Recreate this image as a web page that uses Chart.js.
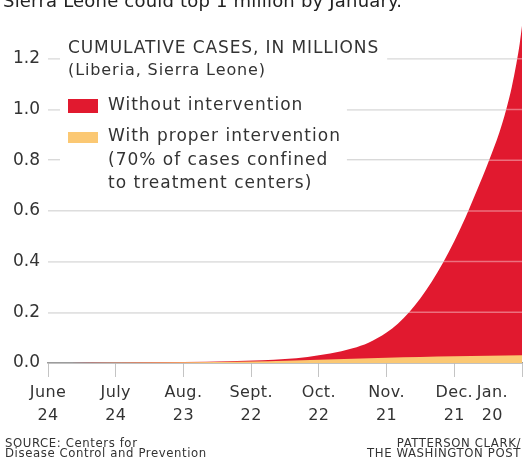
<!DOCTYPE html>
<html>
<head>
<meta charset="utf-8">
<script src="https://cdn.jsdelivr.net/npm/chart.js@4"></script>
<style>
  html, body { margin: 0; padding: 0; background: #fff; }
  #c { display: block; }
</style>
</head>
<body>
<canvas id="c" width="526" height="459"></canvas>
<script>
// Days are counted from June 24.
const tickDays = [0, 30, 60, 90, 120, 150, 180, 210];
const tickLabels = [
  ['June', '24'], ['July', '24'], ['Aug.', '23'], ['Sept.', '22'],
  ['Oct.', '22'], ['Nov.', '21'], ['Dec.', '21'], ['Jan.', '20']
];
const yTicks = [0, 0.2, 0.4, 0.6, 0.8, 1.0, 1.2];

// Cumulative cases, in millions (Liberia, Sierra Leone)
const noInterventionDays = [0, 20, 40, 60, 80, 95, 105, 115, 125, 135, 142, 150, 155, 160, 165, 170, 175, 180, 185, 190, 195, 200, 203, 205.5, 207.5, 209, 210];
const noInterventionCases = [0.000, 0.001, 0.002, 0.004, 0.007, 0.011, 0.016, 0.024, 0.037, 0.058, 0.080, 0.120, 0.155, 0.200, 0.255, 0.320, 0.395, 0.480, 0.575, 0.680, 0.790, 0.910, 1.000, 1.090, 1.180, 1.260, 1.330];

const interventionDays = [0, 30, 60, 90, 105, 120, 135, 150, 165, 180, 195, 210];
const interventionCases = [0.000, 0.001, 0.003, 0.006, 0.009, 0.013, 0.017, 0.021, 0.024, 0.027, 0.029, 0.031];

const titleText = 'Sierra Leone could top 1 million by January.';
const legendHeader = ['CUMULATIVE CASES, IN MILLIONS', '(Liberia, Sierra Leone)'];
const legendWithout = ['Without intervention'];
const legendWith = ['With proper intervention', '(70% of cases confined', 'to treatment centers)'];
const sourceLines = ['SOURCE: Centers for', 'Disease Control and Prevention'];
const creditLines = ['PATTERSON CLARK/', 'THE WASHINGTON POST'];

const RED = '#e1192f';
const ORANGE = '#fbc873';
const TEXT = '#333333';
const FONT = "'DejaVu Sans', 'Open Sans', sans-serif";
const NARROW = "'DejaVu Sans Condensed', 'Liberation Sans Narrow', sans-serif";

function toPoints(xs, ys) {
  return xs.map((x, i) => ({ x: x, y: ys[i] }));
}

function setFont(ctx, size, family, spacing) {
  ctx.font = size + 'px ' + family;
  ctx.letterSpacing = (spacing || 0) + 'px';
}

const decorations = {
  id: 'decorations',
  afterDatasetsDraw(chart) {
    const { ctx, chartArea, scales } = chart;
    const y = scales.y;

    // pale grid lines running across the filled areas
    ctx.save();
    ctx.beginPath();
    ctx.rect(chartArea.left, chartArea.top, chartArea.right - chartArea.left, chartArea.bottom - chartArea.top);
    ctx.clip();
    ctx.strokeStyle = 'rgba(255,255,255,0.38)';
    ctx.lineWidth = 1.5;
    y.ticks.forEach(t => {
      if (t.value === 0) return;
      const py = y.getPixelForValue(t.value);
      ctx.beginPath();
      ctx.moveTo(chartArea.left, py);
      ctx.lineTo(chartArea.right, py);
      ctx.stroke();
    });
    ctx.restore();

    // legend block, set on white over the grid
    const left = chartArea.left + 20;
    const textX = left + 40;
    const maskX = chartArea.left + 12;
    ctx.save();
    ctx.textBaseline = 'middle';
    ctx.textAlign = 'left';

    setFont(ctx, 17, FONT, 0.9);
    const headW = ctx.measureText(legendHeader[0]).width;
    setFont(ctx, 17, FONT, 1);
    let blockW = 0;
    legendWithout.concat(legendWith).forEach(s => { blockW = Math.max(blockW, ctx.measureText(s).width); });

    ctx.fillStyle = '#ffffff';
    ctx.fillRect(maskX, 38, left + headW + 8 - maskX, 22);
    ctx.fillRect(maskX, 88, textX + blockW + 6 - maskX, 108);

    ctx.fillStyle = TEXT;
    setFont(ctx, 17, FONT, 0.9);
    ctx.fillText(legendHeader[0], left, 49);
    setFont(ctx, 16, FONT, 0.9);
    ctx.fillText(legendHeader[1], left, 71);

    ctx.fillStyle = RED;
    ctx.fillRect(left, 99, 30, 14);
    ctx.fillStyle = ORANGE;
    ctx.fillRect(left, 132, 30, 11);

    ctx.fillStyle = TEXT;
    setFont(ctx, 17, FONT, 1);
    ctx.fillText(legendWithout[0], textX, 106);
    legendWith.forEach((s, i) => ctx.fillText(s, textX, 137 + i * 23.5));
    ctx.restore();
  },
  afterDraw(chart) {
    const { ctx, chartArea, scales, width, height } = chart;
    const x = scales.x;
    ctx.save();

    // category labels under the time axis
    ctx.fillStyle = TEXT;
    ctx.textAlign = 'center';
    ctx.textBaseline = 'middle';
    setFont(ctx, 16, FONT, 0.4);
    x.ticks.forEach((t, i) => {
      const lines = tickLabels[i];
      if (!lines) return;
      const w = Math.max(...lines.map(s => ctx.measureText(s).width));
      let px = x.getPixelForValue(t.value);
      px = Math.min(px, width - 18 - w / 2);
      ctx.fillText(lines[0], px, chartArea.bottom + 30);
      ctx.fillText(lines[1], px, chartArea.bottom + 53);
    });

    // headline, partly above the top edge
    ctx.textAlign = 'left';
    ctx.textBaseline = 'alphabetic';
    ctx.fillStyle = '#222';
    setFont(ctx, 18, FONT, 0.2);
    ctx.fillText(titleText, 3, 7);

    // source and credit
    ctx.fillStyle = TEXT;
    setFont(ctx, 13, NARROW, 0.6);
    ctx.fillText(sourceLines[0], 5, height - 12);
    ctx.fillText(sourceLines[1], 5, height - 2);
    ctx.textAlign = 'right';
    ctx.fillText(creditLines[0], width - 5, height - 12);
    ctx.fillText(creditLines[1], width - 5, height - 2);
    ctx.restore();
  }
};

new Chart(document.getElementById('c'), {
  type: 'line',
  data: {
    datasets: [
      {
        label: 'With proper intervention',
        data: toPoints(interventionDays, interventionCases),
        backgroundColor: ORANGE,
        borderWidth: 0,
        fill: 'origin',
        pointRadius: 0,
        cubicInterpolationMode: 'monotone',
        order: 1
      },
      {
        label: 'Without intervention',
        data: toPoints(noInterventionDays, noInterventionCases),
        backgroundColor: RED,
        borderWidth: 0,
        fill: 'origin',
        pointRadius: 0,
        cubicInterpolationMode: 'monotone',
        order: 2
      }
    ]
  },
  options: {
    responsive: false,
    animation: false,
    devicePixelRatio: 1,
    layout: { padding: { top: 6, right: 4, bottom: 82, left: 0 } },
    plugins: {
      legend: { display: false },
      tooltip: { enabled: false },
      title: { display: false }
    },
    scales: {
      x: {
        type: 'linear',
        min: 0,
        max: 210,
        afterBuildTicks: s => { s.ticks = tickDays.map(v => ({ value: v })); },
        ticks: { display: false },
        grid: { drawOnChartArea: false, drawTicks: true, tickLength: 14, color: '#c4c4c4', lineWidth: 1 },
        border: { display: true, color: '#9c9c9c', width: 1.5 }
      },
      y: {
        type: 'linear',
        min: 0,
        max: 1.36,
        afterBuildTicks: s => { s.ticks = yTicks.map(v => ({ value: v })); },
        afterFit: s => { s.width = 48; },
        ticks: {
          padding: 8,
          color: TEXT,
          font: { family: FONT, size: 17 },
          callback: v => v.toFixed(1)
        },
        grid: { color: '#d0d0d0', lineWidth: 1.5, drawTicks: false },
        border: { display: false }
      }
    }
  },
  plugins: [decorations]
});
</script>
</body>
</html>
